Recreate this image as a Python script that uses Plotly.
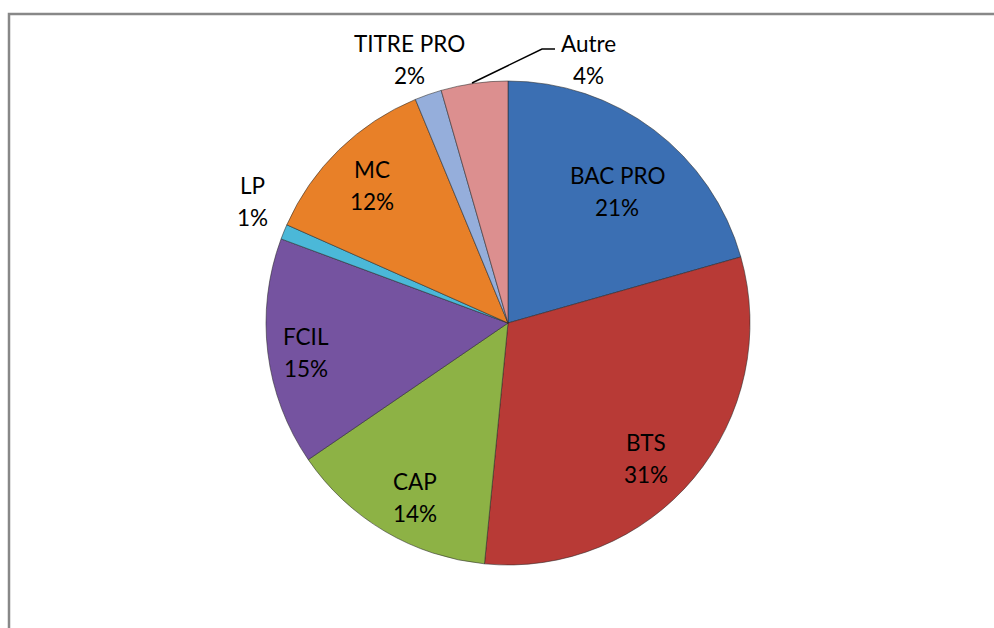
import plotly.graph_objects as go

labels = ['BAC PRO', 'BTS', 'CAP', 'FCIL', 'LP', 'MC', 'TITRE PRO', 'Autre']
values = [20.6, 30.95, 13.9, 15.2, 1.0, 12.1, 1.8, 4.45]
colors = ['#3b6fb3', '#b83a36', '#8db245', '#7553a0', '#4bb8d8', '#e88028', '#95aedb', '#dc8f8f']

# position (px) du centre de chaque étiquette, façon Excel
label_pos = {
    'BAC PRO': (617, 191), 'BTS': (646, 458), 'CAP': (415, 497), 'FCIL': (306, 352),
    'LP': (252, 201), 'MC': (372, 185), 'TITRE PRO': (409, 60), 'Autre': (588, 60),
}

W, H = 994, 628
cx, cy, r = 508, 323, 242
FONT = dict(family='Lato', size=22.5, color='black')

fig = go.Figure(go.Pie(
    labels=labels, values=values,
    sort=False, direction='clockwise', rotation=0,
    marker=dict(colors=colors, line=dict(color='rgba(40,40,40,0.55)', width=1)),
    textinfo='none',
    domain=dict(x=[(cx - r) / W, (cx + r) / W], y=[(H - cy - r) / H, (H - cy + r) / H]),
    showlegend=False, hoverinfo='label+percent',
))

total = sum(values)
for name, v in zip(labels, values):
    x, y = label_pos[name]
    pct = f'{round(v / total * 100)}%'
    for txt, yy in ((name, y - 16), (pct, y + 16)):
        fig.add_annotation(
            x=x / W, y=1 - yy / H, xref='paper', yref='paper',
            xanchor='center', yanchor='middle',
            text=txt, showarrow=False, font=FONT,
        )

# trait de rappel pour "Autre"
fig.add_shape(type='path', xref='paper', yref='paper',
              path=f'M {472 / W} {1 - 83 / H} L {542 / W} {1 - 49 / H} L {555 / W} {1 - 49 / H}',
              line=dict(color='black', width=1.5))

# cadre (haut + gauche)
fig.add_shape(type='path', xref='paper', yref='paper',
              path=f'M {9 / W} 0 L {9 / W} {1 - 14 / H} L 1 {1 - 14 / H}',
              line=dict(color='#888888', width=2.5))

fig.update_layout(
    width=W, height=H,
    margin=dict(l=0, r=0, t=0, b=0),
    paper_bgcolor='white', plot_bgcolor='white',
)

fig.write_html('out.html', config={'displayModeBar': False},
               post_script="document.body.style.margin='0px';")
